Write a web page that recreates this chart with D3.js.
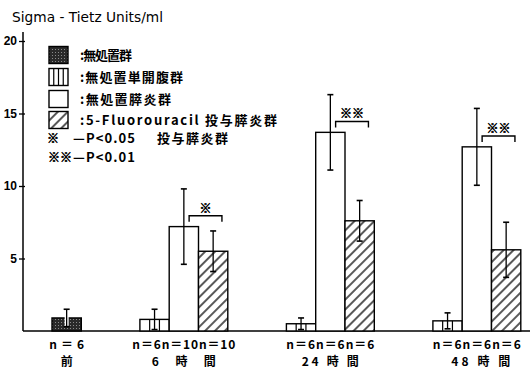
<!DOCTYPE html>
<html>
<head>
<meta charset="utf-8">
<script src="https://cdn.jsdelivr.net/npm/d3@7"></script>
<style>
  html, body { margin: 0; padding: 0; background: #fff; }
  svg { display: block; }
  .jp { font-family: "Noto Sans CJK JP", sans-serif; font-weight: bold; }
  .mark { stroke: #000; stroke-width: 0.6; }
  .num { font-family: "Liberation Sans Narrow", "Liberation Sans", sans-serif; font-weight: bold; }
</style>
</head>
<body>
<svg id="chart" width="530" height="369"></svg>
<script>
// Serum amylase (Sigma-Tietz units/ml) by group and time point
const groupLabels = ["前", "6 時 間", "24 時 間", "48 時 間"];
const seriesNames = [":無処置群", ":無処置単開腹群", ":無処置膵炎群", ":5-Fluorouracil 投与膵炎群"];

// one entry per bar
const barGroup  = [0, 1, 1, 1, 2, 2, 2, 3, 3, 3];
const barSeries = [0, 1, 2, 3, 1, 2, 3, 1, 2, 3];
const barMean   = [0.9, 0.8, 7.2, 5.5, 0.5, 13.7, 7.6, 0.7, 12.7, 5.6];
const barSD     = [0.6, 0.7, 2.6, 1.4, 0.4, 2.6, 1.4, 0.55, 2.65, 1.9];
const barN      = [6, 6, 10, 10, 6, 6, 6, 6, 6, 6];

// significance between pancreatitis and 5-FU groups
const sigGroup = [1, 2, 3];
const sigMark  = ["※", "※※", "※※"];

const yTicks = [5, 10, 15, 20];

const svg = d3.select("#chart");

// ---- patterns ----
const defs = svg.append("defs");
const dark = defs.append("pattern").attr("id", "dark")
  .attr("patternUnits", "userSpaceOnUse").attr("width", 3).attr("height", 3);
dark.append("rect").attr("width", 3).attr("height", 3).attr("fill", "#2a2a2a");
dark.append("rect").attr("x", 1).attr("y", 1).attr("width", 1).attr("height", 1).attr("fill", "#8a8a8a");

const hatch = defs.append("pattern").attr("id", "hatch")
  .attr("patternUnits", "userSpaceOnUse").attr("width", 7).attr("height", 7)
  .attr("patternTransform", "rotate(45)");
hatch.append("rect").attr("width", 7).attr("height", 7).attr("fill", "#fff");
hatch.append("line").attr("x1", 1).attr("x2", 1).attr("y1", 0).attr("y2", 7)
  .attr("stroke", "#000").attr("stroke-width", 1.3);

// ---- scales ----
// bars sit in slots; each group is followed by a two-slot gap
const groupStart = [];
{
  let s = 0;
  groupLabels.forEach((g, i) => {
    groupStart.push(s);
    const count = barGroup.filter(b => b === i).length;
    s += count + 2;
  });
}
const slotOf = barGroup.map((g, i) =>
  groupStart[g] + barGroup.slice(0, i).filter(b => b === g).length);

const x = d3.scaleLinear().domain([0, 16]).range([52, 520.8]);
const bw = x(1) - x(0);
const y = d3.scaleLinear().domain([0, 20]).range([331, 41]);
const axisX = 23;

// ---- axes ----
const yAxis = svg.append("g").attr("transform", `translate(${axisX},0)`)
  .call(d3.axisLeft(y).tickValues(yTicks).tickSizeInner(4).tickSizeOuter(0).tickPadding(2));
yAxis.select(".domain").remove();
yAxis.selectAll(".tick line").attr("x1", 2).attr("x2", -4).attr("stroke-width", 1.3);
yAxis.selectAll(".tick text").attr("class", "num").attr("font-size", 12).attr("fill", "#000");
svg.append("line").attr("x1", axisX).attr("x2", axisX).attr("y1", 32).attr("y2", y(0))
  .attr("stroke", "#000").attr("stroke-width", 1.5);
svg.append("line").attr("x1", axisX).attr("x2", 530).attr("y1", y(0)).attr("y2", y(0))
  .attr("stroke", "#000").attr("stroke-width", 1.5);

svg.append("text").attr("x", 12).attr("y", 22)
  .attr("font-family", "DejaVu Sans, sans-serif").attr("font-size", 14)
  .attr("textLength", 151).attr("lengthAdjust", "spacingAndGlyphs")
  .text("Sigma - Tietz  Units/ml");

// ---- bars ----
const fills = ["url(#dark)", "#fff", "#fff", "url(#hatch)"];
const bars = svg.append("g");
barMean.forEach((m, i) => {
  const x0 = x(slotOf[i]);
  bars.append("rect")
    .attr("x", x0).attr("y", y(m)).attr("width", bw).attr("height", y(0) - y(m))
    .attr("fill", fills[barSeries[i]]).attr("stroke", "#000").attr("stroke-width", 1.4);
  if (barSeries[i] === 1) {
    [1 / 3, 2 / 3].forEach(f => {
      bars.append("line").attr("x1", x0 + bw * f).attr("x2", x0 + bw * f)
        .attr("y1", y(m)).attr("y2", y(0)).attr("stroke", "#000").attr("stroke-width", 1.2);
    });
  }
});

// ---- error bars ----
const err = svg.append("g").attr("stroke", "#000");
barMean.forEach((m, i) => {
  const cx = x(slotOf[i]) + bw / 2;
  const lo = y(Math.max(0, m - barSD[i])), hi = y(m + barSD[i]);
  if (barSeries[i] === 0) {
    err.append("line").attr("x1", cx).attr("x2", cx).attr("y1", lo).attr("y2", hi)
      .attr("stroke", "#fff").attr("stroke-width", 4);
  }
  err.append("line").attr("x1", cx).attr("x2", cx).attr("y1", lo).attr("y2", hi).attr("stroke-width", 1.3);
  [lo, hi].forEach(v => err.append("line").attr("x1", cx - 3).attr("x2", cx + 3)
    .attr("y1", v).attr("y2", v).attr("stroke-width", 1.6));
});

// ---- significance brackets ----
sigGroup.forEach((g, k) => {
  const iOpen = barGroup.findIndex((b, i) => b === g && barSeries[i] === 2);
  const iFu = barGroup.findIndex((b, i) => b === g && barSeries[i] === 3);
  const x1 = x(slotOf[iOpen]) + bw * 0.68;
  const x2 = x(slotOf[iFu]) + bw * 0.8;
  const yb = y(barMean[iOpen] + 0.75);
  svg.append("path")
    .attr("d", `M${x1},${yb + 6}V${yb}H${x2}V${yb + 6}`)
    .attr("fill", "none").attr("stroke", "#000").attr("stroke-width", 1.4);
  svg.append("text").attr("class", "jp mark").attr("x", (x1 + x2) / 2).attr("y", yb - 3)
    .attr("text-anchor", "middle").attr("font-size", 12).text(sigMark[k]);
});

// ---- group labels ----
const nWidth = [35, 103, 88, 88];
const tWidth = [null, 64, 57, 59];
groupLabels.forEach((g, gi) => {
  const idx = barGroup.map((b, i) => b === gi ? i : -1).filter(i => i >= 0);
  const first = slotOf[idx[0]], last = slotOf[idx[idx.length - 1]] + 1;
  const cx = x((first + last) / 2);
  svg.append("text").attr("class", "jp").attr("x", cx).attr("y", 349)
    .attr("text-anchor", "middle").attr("font-size", 12)
    .attr("textLength", nWidth[gi]).attr("lengthAdjust", "spacing")
    .text(idx.map(i => "n＝" + barN[i]).join(""));
  const t = svg.append("text").attr("class", "jp").attr("x", cx + (gi === 3 ? 4 : 0)).attr("y", 366)
    .attr("text-anchor", "middle").attr("font-size", 12).text(g);
  if (tWidth[gi]) t.attr("textLength", tWidth[gi]).attr("lengthAdjust", "spacing");
});

// ---- legend ----
const legend = svg.append("g");
const rowY = [55, 77, 99, 120];
const rowW = [52, 103, 91, 197];
seriesNames.forEach((name, i) => {
  const sy = rowY[i] - 8.5;
  legend.append("rect").attr("x", 49).attr("y", sy).attr("width", 19).attr("height", 17)
    .attr("fill", fills[i]).attr("stroke", "#000").attr("stroke-width", 1.4);
  if (i === 1) {
    [0.25, 0.5, 0.75].forEach(f => legend.append("line")
      .attr("x1", 49 + 19 * f).attr("x2", 49 + 19 * f).attr("y1", sy).attr("y2", sy + 17)
      .attr("stroke", "#000").attr("stroke-width", 1.2));
  }
  legend.append("text").attr("class", "jp").attr("x", 80).attr("y", rowY[i] + 5)
    .attr("font-size", 13).attr("textLength", rowW[i]).attr("lengthAdjust", "spacing").text(name);
});
legend.append("text").attr("class", "jp mark").attr("x", 53).attr("y", 143)
  .attr("text-anchor", "middle").attr("font-size", 12).text("※");
legend.append("text").attr("class", "jp").attr("x", 73).attr("y", 143)
  .attr("font-size", 13).attr("textLength", 62).attr("lengthAdjust", "spacing").text("—P<0.05");
legend.append("text").attr("class", "jp").attr("x", 157).attr("y", 143)
  .attr("font-size", 13).attr("textLength", 71).attr("lengthAdjust", "spacing").text("投与膵炎群");
legend.append("text").attr("class", "jp mark").attr("x", 48).attr("y", 162)
  .attr("font-size", 12).text("※※");
legend.append("text").attr("class", "jp").attr("x", 73).attr("y", 162)
  .attr("font-size", 13).attr("textLength", 62).attr("lengthAdjust", "spacing").text("—P<0.01");
</script>
</body>
</html>
